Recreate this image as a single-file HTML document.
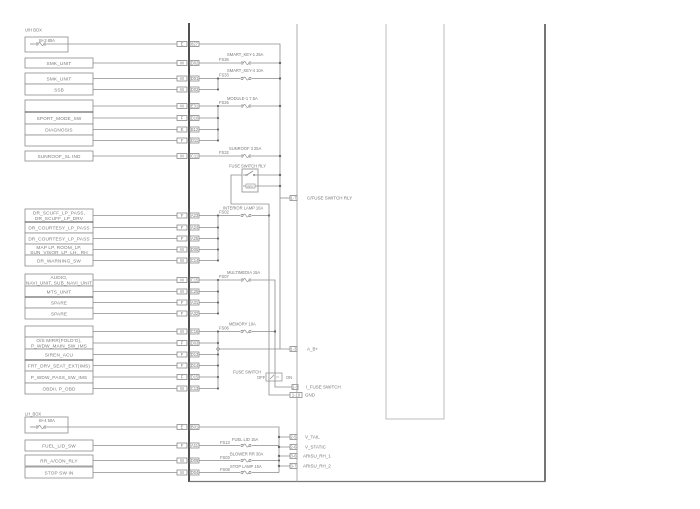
<!DOCTYPE html>
<html><head><meta charset="utf-8"><style>
html,body{margin:0;padding:0;background:#fff;}
svg{display:block}
.l{stroke:#8c8c8c;stroke-width:0.8;fill:none}
.b{stroke:#8c8c8c;stroke-width:0.8;fill:#fff}
.k{stroke:#4a4a4a;stroke-width:1;fill:none}
.t{font-family:"Liberation Sans",sans-serif;font-size:4.7px;fill:#7a7a7a;letter-spacing:0.15px}
.s{font-family:"Liberation Sans",sans-serif;font-size:4.1px;fill:#777}
.r{font-family:"Liberation Sans",sans-serif;font-size:4.5px;fill:#777}
.m{text-anchor:middle}
.d{fill:#666}
</style></head><body>
<svg width="700" height="509" viewBox="0 0 700 509" xmlns="http://www.w3.org/2000/svg">
<defs>
<g id="fz"><circle cx="2" cy="0" r="1.1" fill="none" stroke="#8c8c8c" stroke-width="0.7"/><path d="M3.1,0 Q4.5,-3 6,0 Q7.5,3 8.9,0" fill="none" stroke="#8c8c8c" stroke-width="0.7"/><circle cx="10" cy="0" r="1.1" fill="none" stroke="#8c8c8c" stroke-width="0.7"/></g>
</defs>

<!-- frame -->
<line x1="189" y1="23" x2="189" y2="482" stroke="#3c3c3c" stroke-width="1.8"/>
<line x1="545" y1="24" x2="545" y2="482" stroke="#3a3a3a" stroke-width="1.4"/>
<line x1="189" y1="481.5" x2="545.5" y2="481.5" stroke="#777" stroke-width="1.2"/>
<line x1="297" y1="24" x2="297" y2="482" stroke="#9a9a9a" stroke-width="0.8"/>
<path d="M386,24 V419 H444 V24" stroke="#bdbdbd" stroke-width="1" fill="none"/>

<!-- ===== LEFT BOXES ===== -->
<text class="s" x="25" y="31.5">U/H BOX</text>
<rect class="b" x="25" y="37" width="43" height="15"/>
<text class="s m" x="47" y="42">B+3 80A</text>
<line class="l" x1="30" y1="44" x2="35" y2="44"/><use href="#fz" x="35" y="44"/><line class="l" x1="47" y1="44" x2="177" y2="44"/>

<rect class="b" x="25" y="58" width="68" height="10"/><text class="t m" x="59" y="64.8">SMK_UNIT</text>

<rect class="b" x="25" y="73" width="68" height="11"/><text class="t m" x="59" y="80.3">SMK_UNIT</text>
<rect class="b" x="25" y="84" width="68" height="11"/><text class="t m" x="59" y="91.3">SSB</text>

<rect class="b" x="25" y="100" width="68" height="12"/>
<rect class="b" x="25" y="112" width="68" height="12"/><text class="t m" x="59" y="119.8">SPORT_MODE_SW</text>
<rect class="b" x="25" y="124" width="68" height="11"/><text class="t m" x="59" y="131.3">DIAGNOSIS</text>
<rect class="b" x="25" y="135" width="68" height="11"/>
<line class="k" x1="25" y1="112" x2="93" y2="112"/>

<rect class="b" x="25" y="151" width="68" height="10"/><text class="t m" x="59" y="157.8">SUNROOF_SL IND</text>

<rect class="b" x="25" y="209" width="68" height="13"/><text class="t m" x="59" y="214.5">DR_SCUFF_LP_PASS,</text><text class="t m" x="59" y="220">DR_SCUFF_LP_DRV</text>
<rect class="b" x="25" y="222" width="68" height="11"/><text class="t m" x="59" y="229.3">DR_COURTESY_LP_PASS</text>
<rect class="b" x="25" y="233" width="68" height="11"/><text class="t m" x="59" y="240.3">DR_COURTESY_LP_PASS</text>
<rect class="b" x="25" y="244" width="68" height="11"/><text class="t m" x="59" y="248.8">MAP LP, ROOM_LP,</text><text class="t m" x="59" y="254">SUN_VISOR_LP_LH,_RH</text>
<rect class="b" x="25" y="255" width="68" height="11"/><text class="t m" x="59" y="262.3">DR_WARNING_SW</text>
<line class="k" x1="25" y1="222" x2="93" y2="222"/>

<rect class="b" x="25" y="274" width="68" height="12"/><text class="t m" x="59" y="279">AUDIO,</text><text class="t m" x="59" y="284.5">NAVI_UNIT, SUB_NAVI_UNIT</text>
<rect class="b" x="25" y="286" width="68" height="11"/><text class="t m" x="59" y="293.3">MTS_UNIT</text>
<rect class="b" x="25" y="297" width="68" height="11"/><text class="t m" x="59" y="304.3">SPARE</text>
<rect class="b" x="25" y="308" width="68" height="11"/><text class="t m" x="59" y="315.3">SPARE</text>
<line class="k" x1="25" y1="297" x2="93" y2="297"/>

<rect class="b" x="25" y="326" width="68" height="11"/>
<rect class="b" x="25" y="337" width="68" height="12"/><text class="t m" x="59" y="342">O/S MIRR(FOLD'G),</text><text class="t m" x="59" y="347.5">P_WDW_MAIN_SW_IMS</text>
<rect class="b" x="25" y="349" width="68" height="11"/><text class="t m" x="59" y="356.3">SIREN_ACU</text>
<rect class="b" x="25" y="360" width="68" height="11"/><text class="t m" x="59" y="367.3">FRT_DRV_SEAT_EXT(IMS)</text>
<rect class="b" x="25" y="371" width="68" height="12"/><text class="t m" x="59" y="378.8">P_WDW_PASS_SW_IMS</text>
<rect class="b" x="25" y="383" width="68" height="11"/><text class="t m" x="59" y="390.3">OBDII, P_OBD</text>
<line class="k" x1="25" y1="360" x2="93" y2="360"/>

<text class="s" x="25" y="415.5">LH_BOX</text>
<rect class="b" x="25" y="417" width="43" height="16"/>
<text class="s m" x="47" y="422">B+4 50A</text>
<line class="l" x1="30" y1="427" x2="35" y2="427"/><use href="#fz" x="35" y="427"/><line class="l" x1="47" y1="427" x2="177" y2="427"/>

<rect class="b" x="25" y="440" width="68" height="11"/><text class="t m" x="59" y="447.3">FUEL_LID_SW</text>
<rect class="b" x="25" y="455" width="68" height="11"/><text class="t m" x="59" y="462.3">RR_A/CON_RLY</text>
<rect class="b" x="25" y="467" width="68" height="11"/><text class="t m" x="59" y="474.3">STOP SW IN</text>

<!-- ===== CONNECTORS (left) ===== -->
<g>
<line class="l" x1="93" y1="63" x2="177" y2="63"/>
<line class="l" x1="93" y1="78.5" x2="177" y2="78.5"/>
<line class="l" x1="93" y1="89.5" x2="177" y2="89.5"/>
<line class="l" x1="93" y1="106" x2="177" y2="106"/>
<line class="l" x1="93" y1="118" x2="177" y2="118"/>
<line class="l" x1="93" y1="129.5" x2="177" y2="129.5"/>
<line class="l" x1="93" y1="140.5" x2="177" y2="140.5"/>
<line class="l" x1="93" y1="156" x2="177" y2="156"/>
<line class="l" x1="93" y1="215.5" x2="177" y2="215.5"/>
<line class="l" x1="93" y1="227.5" x2="177" y2="227.5"/>
<line class="l" x1="93" y1="238.5" x2="177" y2="238.5"/>
<line class="l" x1="93" y1="249.5" x2="177" y2="249.5"/>
<line class="l" x1="93" y1="260.5" x2="177" y2="260.5"/>
<line class="l" x1="93" y1="280" x2="177" y2="280"/>
<line class="l" x1="93" y1="291.5" x2="177" y2="291.5"/>
<line class="l" x1="93" y1="302.5" x2="177" y2="302.5"/>
<line class="l" x1="93" y1="313.5" x2="177" y2="313.5"/>
<line class="l" x1="93" y1="331.5" x2="177" y2="331.5"/>
<line class="l" x1="93" y1="343" x2="177" y2="343"/>
<line class="l" x1="93" y1="354.5" x2="177" y2="354.5"/>
<line class="l" x1="93" y1="365.5" x2="177" y2="365.5"/>
<line class="l" x1="93" y1="377" x2="177" y2="377"/>
<line class="l" x1="93" y1="388.5" x2="177" y2="388.5"/>
<line class="l" x1="93" y1="445.5" x2="177" y2="445.5"/>
<line class="l" x1="93" y1="460.5" x2="177" y2="460.5"/>
<line class="l" x1="93" y1="472.5" x2="177" y2="472.5"/>
</g>
<g>
<rect class="b" x="177" y="41.5" width="10" height="5"/><text class="s m" x="182" y="45.4">E</text><rect class="b" x="190" y="41.5" width="9" height="5"/><text class="s m" x="194.5" y="45.4">827</text>
<rect class="b" x="177" y="60.5" width="10" height="5"/><text class="s m" x="182" y="64.4">M</text><rect class="b" x="190" y="60.5" width="9" height="5"/><text class="s m" x="194.5" y="64.4">D02</text>
<rect class="b" x="177" y="76" width="10" height="5"/><text class="s m" x="182" y="79.9">M</text><rect class="b" x="190" y="76" width="9" height="5"/><text class="s m" x="194.5" y="79.9">D01</text>
<rect class="b" x="177" y="87" width="10" height="5"/><text class="s m" x="182" y="90.9">M</text><rect class="b" x="190" y="87" width="9" height="5"/><text class="s m" x="194.5" y="90.9">D02</text>
<rect class="b" x="177" y="103.5" width="10" height="5"/><text class="s m" x="182" y="107.4">M</text><rect class="b" x="190" y="103.5" width="9" height="5"/><text class="s m" x="194.5" y="107.4">E31</text>
<rect class="b" x="177" y="115.5" width="10" height="5"/><text class="s m" x="182" y="119.4">F</text><rect class="b" x="190" y="115.5" width="9" height="5"/><text class="s m" x="194.5" y="119.4">D10</text>
<rect class="b" x="177" y="127" width="10" height="5"/><text class="s m" x="182" y="130.9">E</text><rect class="b" x="190" y="127" width="9" height="5"/><text class="s m" x="194.5" y="130.9">B12</text>
<rect class="b" x="177" y="138" width="10" height="5"/><text class="s m" x="182" y="141.9">F</text><rect class="b" x="190" y="138" width="9" height="5"/><text class="s m" x="194.5" y="141.9">D11</text>
<rect class="b" x="177" y="153.5" width="10" height="5"/><text class="s m" x="182" y="157.4">M</text><rect class="b" x="190" y="153.5" width="9" height="5"/><text class="s m" x="194.5" y="157.4">C11</text>
<rect class="b" x="177" y="213" width="10" height="5"/><text class="s m" x="182" y="216.9">F</text><rect class="b" x="190" y="213" width="9" height="5"/><text class="s m" x="194.5" y="216.9">A23</text>
<rect class="b" x="177" y="225" width="10" height="5"/><text class="s m" x="182" y="228.9">F</text><rect class="b" x="190" y="225" width="9" height="5"/><text class="s m" x="194.5" y="228.9">A24</text>
<rect class="b" x="177" y="236" width="10" height="5"/><text class="s m" x="182" y="239.9">F</text><rect class="b" x="190" y="236" width="9" height="5"/><text class="s m" x="194.5" y="239.9">A25</text>
<rect class="b" x="177" y="247" width="10" height="5"/><text class="s m" x="182" y="250.9">M</text><rect class="b" x="190" y="247" width="9" height="5"/><text class="s m" x="194.5" y="250.9">D05</text>
<rect class="b" x="177" y="258" width="10" height="5"/><text class="s m" x="182" y="261.9">M</text><rect class="b" x="190" y="258" width="9" height="5"/><text class="s m" x="194.5" y="261.9">C14</text>
<rect class="b" x="177" y="277.5" width="10" height="5"/><text class="s m" x="182" y="281.4">M</text><rect class="b" x="190" y="277.5" width="9" height="5"/><text class="s m" x="194.5" y="281.4">C15</text>
<rect class="b" x="177" y="289" width="10" height="5"/><text class="s m" x="182" y="292.9">M</text><rect class="b" x="190" y="289" width="9" height="5"/><text class="s m" x="194.5" y="292.9">C25</text>
<rect class="b" x="177" y="300" width="10" height="5"/><text class="s m" x="182" y="303.9">F</text><rect class="b" x="190" y="300" width="9" height="5"/><text class="s m" x="194.5" y="303.9">A31</text>
<rect class="b" x="177" y="311" width="10" height="5"/><text class="s m" x="182" y="314.9">F</text><rect class="b" x="190" y="311" width="9" height="5"/><text class="s m" x="194.5" y="314.9">A32</text>
<rect class="b" x="177" y="329" width="10" height="5"/><text class="s m" x="182" y="332.9">M</text><rect class="b" x="190" y="329" width="9" height="5"/><text class="s m" x="194.5" y="332.9">C16</text>
<rect class="b" x="177" y="340.5" width="10" height="5"/><text class="s m" x="182" y="344.4">F</text><rect class="b" x="190" y="340.5" width="9" height="5"/><text class="s m" x="194.5" y="344.4">D03</text>
<rect class="b" x="177" y="352" width="10" height="5"/><text class="s m" x="182" y="355.9">F</text><rect class="b" x="190" y="352" width="9" height="5"/><text class="s m" x="194.5" y="355.9">D13</text>
<rect class="b" x="177" y="363" width="10" height="5"/><text class="s m" x="182" y="366.9">F</text><rect class="b" x="190" y="363" width="9" height="5"/><text class="s m" x="194.5" y="366.9">D14</text>
<rect class="b" x="177" y="374.5" width="10" height="5"/><text class="s m" x="182" y="378.4">F</text><rect class="b" x="190" y="374.5" width="9" height="5"/><text class="s m" x="194.5" y="378.4">D15</text>
<rect class="b" x="177" y="386" width="10" height="5"/><text class="s m" x="182" y="389.9">M</text><rect class="b" x="190" y="386" width="9" height="5"/><text class="s m" x="194.5" y="389.9">C13</text>
<rect class="b" x="177" y="424.5" width="10" height="5"/><text class="s m" x="182" y="428.4">E</text><rect class="b" x="190" y="424.5" width="9" height="5"/><text class="s m" x="194.5" y="428.4">B01</text>
<rect class="b" x="177" y="443" width="10" height="5"/><text class="s m" x="182" y="446.9">F</text><rect class="b" x="190" y="443" width="9" height="5"/><text class="s m" x="194.5" y="446.9">A11</text>
<rect class="b" x="177" y="458" width="10" height="5"/><text class="s m" x="182" y="461.9">M</text><rect class="b" x="190" y="458" width="9" height="5"/><text class="s m" x="194.5" y="461.9">D09</text>
<rect class="b" x="177" y="470" width="10" height="5"/><text class="s m" x="182" y="473.9">M</text><rect class="b" x="190" y="470" width="9" height="5"/><text class="s m" x="194.5" y="473.9">D04</text>
</g>

<!-- ===== RIGHT SIDE WIRING ===== -->
<path class="l" d="M199,44 H280 V349"/>

<path class="l" d="M199,63 H240 M252,63 H280"/><use href="#fz" x="240" y="63"/>
<text class="s" x="219" y="61">FS36</text><text class="s" x="227" y="56">SMART_KEY-1 25A</text>
<circle class="d" cx="280" cy="63" r="1.2"/>

<path class="l" d="M199,78.5 H240 M252,78.5 H280 M218,78.5 V89.5 M199,89.5 H218"/><use href="#fz" x="240" y="78.5"/>
<text class="s" x="219" y="76.5">FS33</text><text class="s" x="227" y="72">SMART_KEY-4 10A</text>
<circle class="d" cx="280" cy="78.5" r="1.2"/><circle class="d" cx="218" cy="78.5" r="1.1"/><circle class="d" cx="218" cy="89.5" r="1.1"/>

<path class="l" d="M199,106 H240 M252,106 H280 M218,106 V140.5 M199,118 H218 M199,129.5 H218 M199,140.5 H218"/><use href="#fz" x="240" y="106"/>
<text class="s" x="219" y="104">FS26</text><text class="s" x="227" y="100">MODULE-1 7.5A</text>
<circle class="d" cx="280" cy="106" r="1.2"/><circle class="d" cx="218" cy="106" r="1.1"/><circle class="d" cx="218" cy="118" r="1.1"/><circle class="d" cx="218" cy="129.5" r="1.1"/><circle class="d" cx="218" cy="140.5" r="1.1"/>

<path class="l" d="M199,156 H240 M252,156 H280"/><use href="#fz" x="240" y="156"/>
<text class="s" x="219" y="154">FS32</text><text class="s" x="229" y="150">SUNROOF 3 25A</text>
<circle class="d" cx="280" cy="156" r="1.2"/>

<text class="s" x="229" y="167.5">FUSE SWITCH RLY</text>
<rect class="b" x="242" y="169" width="16" height="23"/>
<path class="l" d="M243,175 H246 M247,175 L253,171 M254,175 H258"/>
<circle cx="246.5" cy="175" r="0.8" fill="none" stroke="#8c8c8c" stroke-width="0.6"/>
<circle cx="254" cy="175" r="0.8" fill="none" stroke="#8c8c8c" stroke-width="0.6"/>
<rect x="246" y="184" width="9" height="4" fill="none" stroke="#8c8c8c" stroke-width="0.6"/>
<text x="250.5" y="187.3" style="font-family:'Liberation Sans',sans-serif;font-size:3px;fill:#777" text-anchor="middle">RRY</text>
<path class="l" d="M243,186 H246 M255,186 H258"/>
<path class="l" d="M258,175 H280 M258,186 H280"/>
<circle class="d" cx="280" cy="175" r="1.2"/><circle class="d" cx="280" cy="186" r="1.2"/>
<path class="l" d="M242,175 H231 V204 H269"/>
<path class="l" d="M280,198 H290"/>
<rect class="b" x="290" y="195.5" width="7" height="5"/><text class="s m" x="293.5" y="199.4">1-7</text>
<text class="r" x="307" y="199.5">C/FUSE SWITCH RLY</text>

<path class="l" d="M199,215.5 H240 M252,215.5 H269 M218,215.5 V260.5 M199,227.5 H218 M199,238.5 H218 M199,249.5 H218 M199,260.5 H218"/><use href="#fz" x="240" y="215.5"/>
<text class="s" x="219" y="213.5">FS02</text><text class="s" x="223" y="209.5">INTERIOR LAMP 10A</text>
<circle class="d" cx="269" cy="215.5" r="1.2"/>
<circle class="d" cx="218" cy="215.5" r="1.1"/><circle class="d" cx="218" cy="227.5" r="1.1"/><circle class="d" cx="218" cy="238.5" r="1.1"/><circle class="d" cx="218" cy="249.5" r="1.1"/><circle class="d" cx="218" cy="260.5" r="1.1"/>

<path class="l" d="M269,204 V395 H290"/>
<rect class="b" x="290" y="392.5" width="12" height="5"/><text class="s m" x="296" y="396.4">1-10</text>
<text class="r" x="305" y="396.7">GND</text>

<path class="l" d="M199,280 H240 M252,280 H275 V387 H292 M218,280 V313.5 M199,291.5 H218 M199,302.5 H218 M199,313.5 H218"/><use href="#fz" x="240" y="280"/>
<text class="s" x="219" y="278">FS07</text><text class="s" x="227" y="274">MULTIMEDIA 15A</text>
<circle class="d" cx="218" cy="280" r="1.1"/><circle class="d" cx="218" cy="291.5" r="1.1"/><circle class="d" cx="218" cy="302.5" r="1.1"/><circle class="d" cx="218" cy="313.5" r="1.1"/>
<rect class="b" x="292" y="384.5" width="6" height="5"/><text class="s m" x="295" y="388.4">1-8</text>
<text class="r" x="306" y="388.7">I_FUSE SWITCH</text>

<path class="l" d="M199,331.5 H240 M252,331.5 H275 M218,331.5 V388.5 M199,343 H218 M199,354.5 H218 M199,365.5 H218 M199,377 H218 M199,388.5 H218"/><use href="#fz" x="240" y="331.5"/>
<text class="s" x="219" y="329.5">FS06</text><text class="s" x="229" y="325.5">MEMORY 10A</text>
<circle class="d" cx="275" cy="331.5" r="1.2"/>
<circle class="d" cx="218" cy="331.5" r="1.1"/><circle class="d" cx="218" cy="343" r="1.1"/><circle class="d" cx="218" cy="354.5" r="1.1"/><circle class="d" cx="218" cy="365.5" r="1.1"/><circle class="d" cx="218" cy="377" r="1.1"/><circle class="d" cx="218" cy="388.5" r="1.1"/>

<path class="l" d="M219.2,349 H290"/>
<circle cx="218" cy="349" r="1.2" fill="#fff" stroke="#666" stroke-width="0.7"/>
<rect class="b" x="290" y="346.5" width="7" height="5"/><text class="s m" x="293.5" y="350.4">1-3</text>
<text class="r" x="307" y="350.7">A_B+</text>

<text class="s" x="233" y="373.5">FUSE SWITCH</text>
<text class="s" x="257" y="378.8">OFF</text>
<rect x="266" y="373" width="16" height="8" fill="none" stroke="#8c8c8c" stroke-width="0.7"/>
<path d="M270,379 L274,375 M276,377 H279" stroke="#8c8c8c" stroke-width="0.6" fill="none"/>
<text class="s" x="286" y="378.8">ON</text>

<path class="l" d="M199,427 H279 V472.5"/>
<path class="l" d="M199,445.5 H240 M252,445.5 H279"/><use href="#fz" x="240" y="445.5"/>
<text class="s" x="220" y="444">FS13</text><text class="s" x="232" y="441">FUEL LID 15A</text>
<path class="l" d="M199,460.5 H240 M252,460.5 H279"/><use href="#fz" x="240" y="460.5"/>
<text class="s" x="220" y="459">FS03</text><text class="s" x="230" y="455.5">BLOWER RR 30A</text>
<path class="l" d="M199,472.5 H240 M252,472.5 H279"/><use href="#fz" x="240" y="472.5"/>
<text class="s" x="220" y="471">FS08</text><text class="s" x="230" y="468">STOP LAMP 15A</text>

<path class="l" d="M279,437 H290 M279,447 H290 M279,456 H290 M279,466 H290"/>
<circle class="d" cx="279" cy="437" r="1.2"/><circle class="d" cx="279" cy="447" r="1.2"/><circle class="d" cx="279" cy="456" r="1.2"/><circle class="d" cx="279" cy="466" r="1.2"/><circle class="d" cx="279" cy="460.5" r="1.1"/>
<rect class="b" x="290" y="434.5" width="7" height="5"/><text class="s m" x="293.5" y="438.4">2-5</text><text class="r" x="305" y="438.7">V_TAIL</text>
<rect class="b" x="290" y="444.5" width="7" height="5"/><text class="s m" x="293.5" y="448.4">2-6</text><text class="r" x="305" y="448.7">V_STATIC</text>
<rect class="b" x="290" y="453.5" width="7" height="5"/><text class="s m" x="293.5" y="457.4">3-6</text><text class="r" x="303" y="457.7">ARISU_RH_1</text>
<rect class="b" x="290" y="463.5" width="7" height="5"/><text class="s m" x="293.5" y="467.4">3-7</text><text class="r" x="303" y="467.7">ARISU_RH_2</text>

</svg>
</body></html>
